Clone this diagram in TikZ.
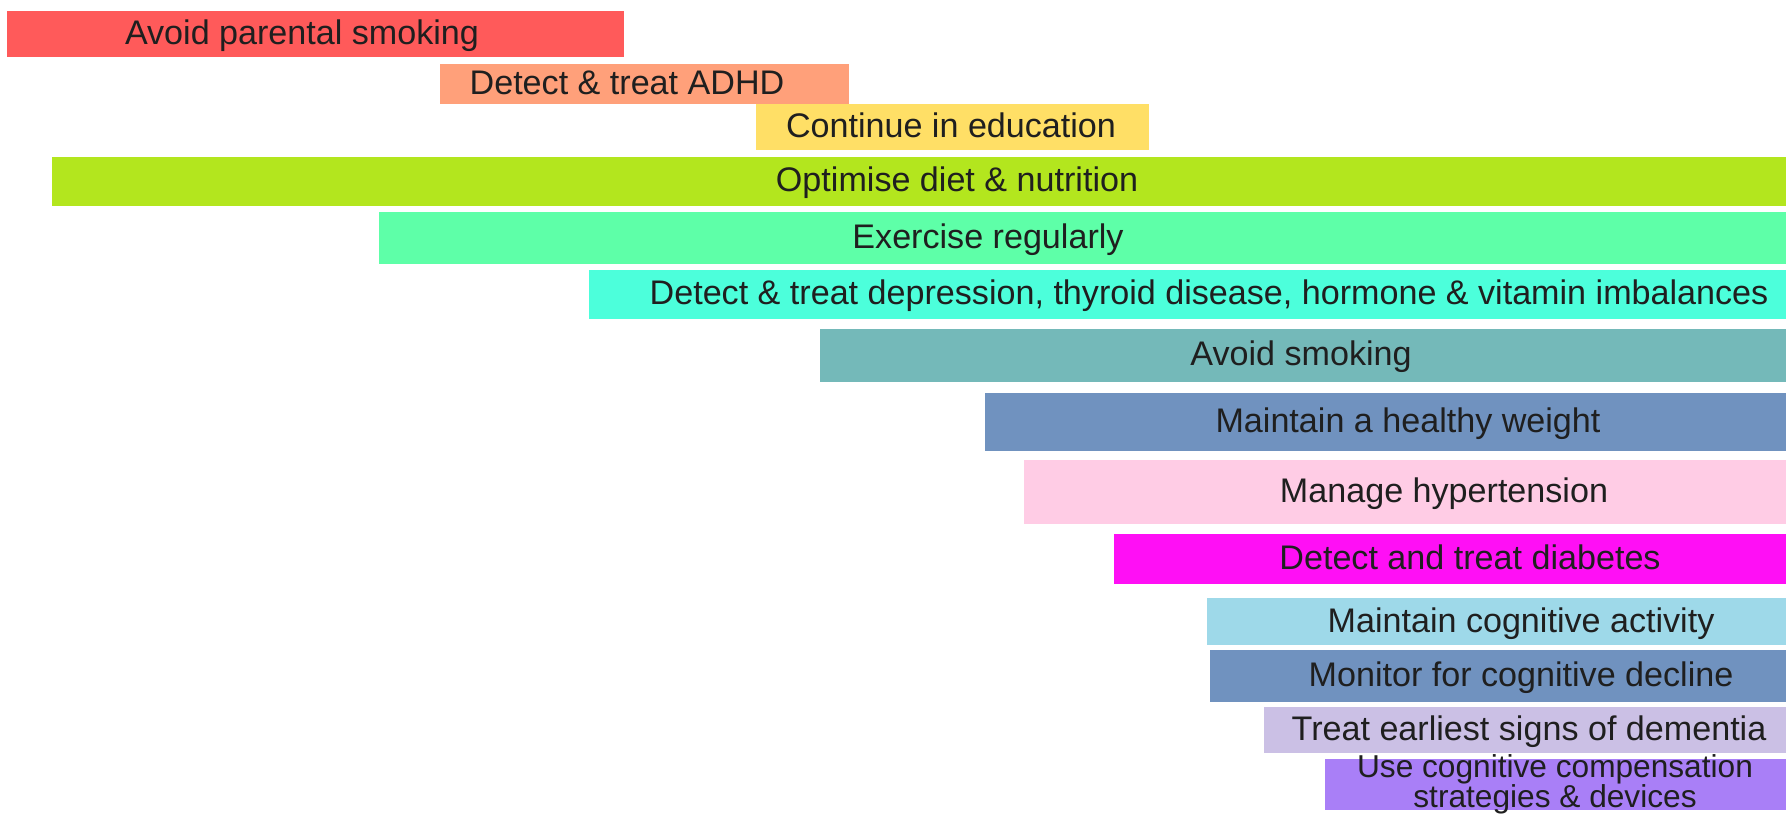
\documentclass[tikz,border=0pt]{standalone}
\usepackage{fontspec}
\setmainfont{Liberation Sans}

\definecolor{barRed}{HTML}{FF5A5A}
\definecolor{barSalmon}{HTML}{FFA07A}
\definecolor{barYellow}{HTML}{FFDF66}
\definecolor{barLime}{HTML}{B3E61E}
\definecolor{barMint}{HTML}{5EFFA8}
\definecolor{barAqua}{HTML}{4CFFDB}
\definecolor{barTeal}{HTML}{74B9B9}
\definecolor{barSteel}{HTML}{7092BF}
\definecolor{barPink}{HTML}{FFCCE5}
\definecolor{barMagenta}{HTML}{FF0FF5}
\definecolor{barSky}{HTML}{9ED9E9}
\definecolor{barLavender}{HTML}{CBC0E5}
\definecolor{barPurple}{HTML}{A97FF7}

\begin{document}
\begin{tikzpicture}[
    x=0.01cm, y=-0.01cm,
    lbl/.style={font=\fontsize{9.7}{11}\selectfont, text=black!88, anchor=mid, inner sep=0pt, align=center},
    lblsmall/.style={lbl, font={\fontsize{9}{8.5}\selectfont\lineskiplimit=-20pt}}
]
\useasboundingbox (0,0) rectangle (1786,818);

% bars, top to bottom
\fill[barRed]      (7,11)    rectangle (624,57);
\fill[barSalmon]   (440,64)  rectangle (849,104);
\fill[barYellow]   (756,104) rectangle (1149,150);
\fill[barLime]     (52,157)  rectangle (1786,206);
\fill[barMint]     (379,212) rectangle (1786,264);
\fill[barAqua]     (589,270) rectangle (1786,319);
\fill[barTeal]     (820,329) rectangle (1786,382);
\fill[barSteel]    (985,393) rectangle (1786,451);
\fill[barPink]     (1024,460) rectangle (1786,524);
\fill[barMagenta]  (1114,534) rectangle (1786,584);
\fill[barSky]      (1207,598) rectangle (1786,645);
\fill[barSteel]    (1210,650) rectangle (1786,702);
\fill[barLavender] (1264,707) rectangle (1786,753);
\fill[barPurple]   (1325,759) rectangle (1786,810);

% labels
\node[lbl] (parent)   at (302,35)   {Avoid parental smoking};
\node[lbl] (adhd)     at (627,85)   {Detect \& treat ADHD};
\node[lbl] (educ)     at (951,128)  {Continue in education};
\node[lbl] (diet)     at (957,182)  {Optimise diet \& nutrition};
\node[lbl] (exercise) at (988,239)  {Exercise regularly};
\node[lbl] (depress)  at (1209,295) {Detect \& treat depression, thyroid disease, hormone \& vitamin imbalances};
\node[lbl] (smoking)  at (1301,356) {Avoid smoking};
\node[lbl] (weight)   at (1408,423) {Maintain a healthy weight};
\node[lbl] (hyper)    at (1444,493) {Manage hypertension};
\node[lbl] (diabetes) at (1470,560) {Detect and treat diabetes};
\node[lbl] (cogact)   at (1521,623) {Maintain cognitive activity};
\node[lbl] (monitor)  at (1521,677) {Monitor for cognitive decline};
\node[lbl] (earliest) at (1529,731) {Treat earliest signs of dementia};
\node[lblsmall, anchor=center] (compens) at (1555,784) {Use cognitive compensation\\strategies \& devices};
\end{tikzpicture}
\end{document}
